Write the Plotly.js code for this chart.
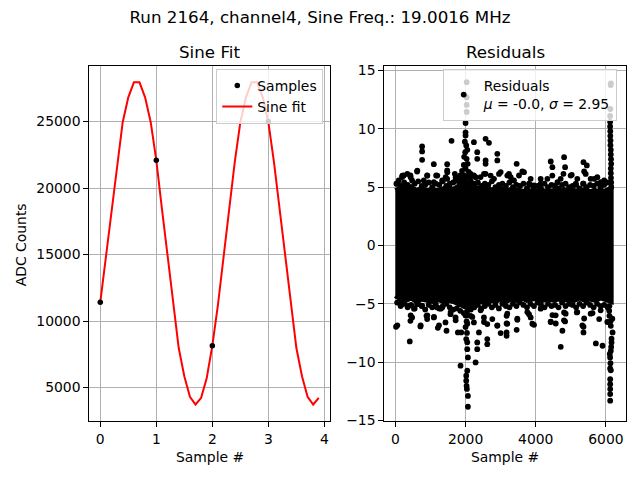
<!DOCTYPE html>
<html>
<head>
<meta charset="utf-8">
<script src="https://cdn.plot.ly/plotly-3.0.1.min.js"></script>
<style>html,body{margin:0;padding:0;background:#fff;}#chart{width:640px;height:480px;}</style>
</head>
<body>
<div id="chart"></div>
<script>
// ---------- Data ----------
const sampleX = [0, 1, 2, 3];
const sampleY = [11420, 22100, 8150, 25000];

const fitX = [0.0,0.1,0.2,0.3,0.4,0.5,0.6,0.7,0.8,0.9,
              1.0,1.1,1.2,1.3,1.4,1.5,1.6,1.7,1.8,1.9,
              2.0,2.1,2.2,2.3,2.4,2.5,2.6,2.7,2.8,2.9,
              3.0,3.1,3.2,3.3,3.4,3.5,3.6,3.7,3.8,3.9];
const fitY = [11420,14840,18460,21950,24950,26820,27950,27950,26820,24950,
              22080,18460,14840,11220,7970,5850,4300,3725,4225,5720,
              8150,11220,14840,18460,21950,24950,26820,27950,27950,26820,
              24950,21950,18460,14840,11220,7970,5850,4300,3725,4225];

// Dense core of the residual cloud: envelope (upper / lower) along sample index
const envX = [0,150,300,450,600,750,900,1050,1200,1350,1500,1650,1800,1950,2100,2250,2400,2550,2700,2850,
              3000,3150,3300,3450,3600,3750,3900,4050,4200,4350,4500,4650,4800,4950,5100,5250,5400,5550,5700,5850,6000,6150];
const envUpper = [4.7,4.9,4.8,5.0,4.7,4.9,4.7,4.8,4.7,4.9,5.0,4.8,5.1,5.7,5.4,5.0,4.9,5.0,4.8,4.7,
                  4.9,4.7,4.8,4.7,4.6,4.6,4.7,4.6,4.7,4.6,4.7,4.6,4.8,4.6,4.7,4.6,4.8,4.6,4.7,4.6,4.7,4.9];
const envLower = [-4.3,-4.6,-4.7,-4.5,-4.8,-4.6,-4.7,-4.8,-4.6,-4.8,-4.7,-4.8,-4.9,-5.2,-5.4,-5.0,-4.8,-4.9,-4.7,-4.8,
                  -4.6,-4.8,-4.6,-4.7,-4.5,-4.7,-4.6,-4.5,-4.7,-4.6,-4.7,-4.6,-4.7,-4.6,-4.7,-4.5,-4.7,-4.6,-4.7,-4.5,-4.7,-4.8];

// Ragged rim of the dense core (points just above / below the envelope)
const rimX = [50,150,250,350,450,550,650,750,850,950,1050,1150,1250,1350,1450,1550,1650,1750,1850,1950,
              2050,2150,2250,2350,2450,2550,2650,2750,2850,2950,3050,3150,3250,3350,3450,3550,3650,3750,3850,3950,
              4050,4150,4250,4350,4450,4550,4650,4750,4850,4950,5050,5150,5250,5350,5450,5550,5650,5750,5850,5950,6050];
const rimUpper = [5.3,5.1,5.4,5.2,5.0,5.3,5.5,5.1,5.2,5.4,5.0,5.3,5.2,5.5,5.1,5.3,5.4,5.6,5.8,6.0,
                  5.9,5.5,5.3,5.4,5.1,5.3,5.2,5.5,5.0,5.2,5.3,5.1,5.4,5.0,5.2,5.1,5.3,4.9,5.2,5.0,
                  5.1,4.9,5.3,5.0,5.2,5.1,4.9,5.2,5.3,5.0,5.1,5.2,4.9,5.3,5.0,5.2,5.1,5.3,5.0,5.2,5.4];
const rimLower = [-4.9,-5.2,-5.0,-5.3,-5.1,-5.4,-5.0,-5.2,-5.5,-5.1,-5.3,-5.0,-5.4,-5.2,-5.0,-5.3,-5.5,-5.4,-5.6,-5.8,
                  -6.0,-5.5,-5.3,-5.1,-5.4,-5.2,-5.0,-5.3,-5.1,-5.4,-5.0,-5.2,-5.3,-5.0,-5.2,-4.9,-5.1,-5.3,-5.0,-5.2,
                  -4.9,-5.1,-5.3,-5.0,-5.2,-5.1,-5.3,-4.9,-5.2,-5.0,-5.1,-5.3,-5.0,-5.2,-4.9,-5.1,-5.3,-5.0,-5.2,-5.1,-5.3];

// Individual residual points outside the dense core
const resX = [
  29,95,190,238,238,428,476,619,762,762,762,810,905,1095,1095,1162,1333,1476,1476,1476,1600,1695,1714,
  2238,2238,2333,2333,2428,2571,2571,2571,2571,2667,2810,2905,2905,3000,
  2032,2032,2032,2032,2000,2000,2000,1980,2020,2050,1990,1960,2030,2060,1950,2000,1900,2090,1850,2140,1980,1800,2100,2000,
  3237,3380,3456,3523,3618,3808,3951,4142,4332,4427,4475,4618,4790,4808,4837,5027,5142,5361,5380,5456,5361,5665,5856,5951,
  6142,6135,6125,6120,6120,6120,6125,6125,6130,6130,6140,6140,6145,6150,6140,6140,6145,6150,6150,
  198,340,625,435,910,1195,1480,1433,1718,2145,2288,2525,2715,2953,3190,3285,3665,3855,4140,4473,4710,4995,5185,5423,5565,5755,5945,
  19,95,190,381,410,428,476,619,714,762,886,905,1095,1190,1210,1333,1428,1457,1571,1714,1781,1876,
  2143,2238,2286,2333,2333,2381,2524,2619,2619,2619,2762,2905,3000,
  1990,2050,2000,2030,2000,2040,2019,2048,2048,2067,1857,2048,2019,2019,2029,2038,2067,2067,
  3170,3170,3170,3170,3475,3456,3808,3856,3951,4475,4427,4570,4837,4808,4760,4713,5170,5380,5361,5361,5618,5713,5904,5808,
  6100,6094,6100,6130,6140,6190,6160,6160,6150,6140,6110,6120,6130,6120,6140,6122,6122,6122,6122,6122,
  55,198,435,530,720,910,1100,1243,1290,1575,1718,2050,2193,2430,2525,2905,3190,3190,3475,3760,3903,4140,4425,4568,4805,4853,5185,5328,5565,5850,6040,6183
];
const resY = [
  5.29,5.57,5.86,6.0,5.14,6.0,5.57,6.34,8.49,8.06,7.34,5.57,6.0,6.97,5.43,6.0,5.57,6.97,6.43,5.71,8.97,6.14,5.57,
  8.86,6.0,8.0,7.43,5.86,9.14,7.29,7.0,6.14,8.8,5.71,7.86,7.29,6.29,
  14.0,12.7,12.05,11.45,10.5,9.7,9.43,8.9,8.57,8.2,8.0,7.6,7.43,7.0,6.9,6.6,6.4,6.3,6.0,5.9,5.8,5.5,5.4,5.1,
  6.14,5.57,7.0,6.0,6.34,5.29,5.14,5.29,5.71,7.2,6.71,5.43,6.14,7.57,6.71,6.06,5.29,7.14,6.34,6.86,5.29,5.71,5.43,5.57,
  13.9,13.75,11.7,11.1,10.6,10.2,9.8,9.4,9.0,8.6,8.2,7.8,7.4,7.0,6.6,6.2,5.8,5.4,5.0,
  5.99,6.13,6.42,5.85,5.99,5.99,6.28,5.85,5.85,6.13,5.85,6.13,5.99,6.13,5.99,5.85,6.28,5.71,5.71,5.99,5.71,5.99,5.71,6.13,5.71,5.85,5.42,
  -6.97,-4.9,-5.0,-5.17,-8.23,-6.46,-6.17,-5.03,-6.94,-5.17,-6.03,-6.31,-6.17,-5.31,-7.06,-5.31,-6.6,-7.31,-5.89,-6.17,-7.46,-7.46,
  -6.03,-6.6,-10.03,-8.31,-8.89,-7.46,-6.17,-8.03,-8.46,-6.74,-6.31,-6.89,-7.51,
  -5.2,-5.6,-6.0,-6.5,-7.0,-7.5,-8.03,-8.3,-8.89,-9.6,-10.31,-10.74,-11.17,-11.6,-12.03,-12.3,-12.9,-13.83,
  -6.03,-6.69,-7.46,-7.74,-6.37,-7.23,-5.89,-6.17,-6.8,-5.97,-6.54,-6.69,-6.51,-5.74,-7.31,-8.69,-5.74,-6.26,-6.97,-7.46,-5.8,-8.4,-8.6,-6.31,
  -5.2,-5.6,-6.03,-6.5,-6.89,-7.46,-8.0,-8.31,-8.7,-9.03,-9.3,-9.6,-10.1,-10.54,-10.7,-11.46,-11.89,-12.31,-12.74,-13.31,
  -6.85,-5.0,-5.99,-5.42,-6.85,-5.99,-6.13,-6.85,-5.42,-5.71,-6.42,-6.71,-6.13,-5.56,-6.56,-6.85,-6.71,-5.85,-6.28,-5.71,-6.71,-5.42,-6.56,-5.99,-6.42,-5.85,-5.71,-6.85,-5.85,-5.56,-6.56,-6.28
];

// Tick values
const sineTicksX = [0, 1, 2, 3, 4];
const sineTicksY = [5000, 10000, 15000, 20000, 25000];
const resTicksX = [0, 2000, 4000, 6000];
const resTicksY = [-15, -10, -5, 0, 5, 10, 15];

const residualLabel = 'Residuals<br><i>\u03bc</i> = -0.0, <i>\u03c3</i> = 2.95';

// ---------- Build ----------
const FONT = 'DejaVu Sans, Liberation Sans, sans-serif';
const polyX = envX.concat(envX.slice().reverse());
const polyY = envUpper.concat(envLower.slice().reverse());
const allResX = rimX.concat(rimX, resX);
const allResY = rimUpper.concat(rimLower, resY);

const traces = [
  { x: fitX, y: fitY, type: 'scatter', mode: 'lines', name: 'Sine fit',
    line: { color: '#ff0000', width: 2 }, xaxis: 'x', yaxis: 'y', legend: 'legend', legendrank: 2 },
  { x: sampleX, y: sampleY, type: 'scatter', mode: 'markers', name: 'Samples',
    marker: { color: '#000000', size: 5.5 }, xaxis: 'x', yaxis: 'y', legend: 'legend', legendrank: 1 },
  { x: polyX, y: polyY, type: 'scatter', mode: 'lines', fill: 'toself', fillcolor: '#000000',
    line: { color: '#000000', width: 5 }, showlegend: false, hoverinfo: 'skip', xaxis: 'x2', yaxis: 'y2' },
  { x: allResX, y: allResY, type: 'scatter', mode: 'markers', name: residualLabel,
    marker: { color: '#000000', size: 5.8 }, xaxis: 'x2', yaxis: 'y2', legend: 'legend2' }
];

const axisStyle = {
  showline: true, linecolor: '#000000', linewidth: 1, mirror: true,
  ticks: 'outside', ticklen: 5, tickwidth: 1, tickcolor: '#000000',
  showgrid: true, gridcolor: '#b0b0b0', gridwidth: 1, zeroline: false,
  tickfont: { family: FONT, size: 13.9, color: '#000000' }, fixedrange: true
};
const W = 640, H = 480;
const yDom = [(H - 421) / H, (H - 65.5) / H];

const legendStyle = {
  yanchor: 'top', y: 1 - 69 / H, xanchor: 'right',
  bgcolor: 'rgba(255,255,255,0.8)', bordercolor: '#cccccc', borderwidth: 1,
  font: { family: FONT, size: 13.9, color: '#000000' }, tracegroupgap: 0
};

const layout = {
  width: W, height: H, autosize: false,
  margin: { l: 0, r: 0, t: 0, b: 0, pad: 0 },
  paper_bgcolor: '#ffffff', plot_bgcolor: '#ffffff',
  font: { family: FONT, color: '#000000' },
  title: { text: 'Run 2164, channel4, Sine Freq.: 19.0016 MHz', x: 0.5, xanchor: 'center',
           y: 1 - 17 / H, yref: 'container', yanchor: 'middle', font: { family: FONT, size: 16.7, color: '#000000' } },
  xaxis: Object.assign({}, axisStyle, { domain: [89.3 / W, 330 / W], range: [-0.196, 4.10], tickvals: sineTicksX, anchor: 'y' }),
  yaxis: Object.assign({}, axisStyle, { domain: yDom, range: [2485, 29215], tickvals: sineTicksY, tickformat: 'd', anchor: 'x' }),
  xaxis2: Object.assign({}, axisStyle, { domain: [384.3 / W, 625.7 / W], range: [-316, 6564], tickvals: resTicksX, tickformat: 'd', anchor: 'y2' }),
  yaxis2: Object.assign({}, axisStyle, { domain: yDom, range: [-15.05, 15.43], tickvals: resTicksY, anchor: 'x2' }),
  legend: Object.assign({}, legendStyle, { x: 323.3 / W }),
  legend2: Object.assign({}, legendStyle, { x: 616.7 / W }),
  showlegend: true,
  annotations: [
    { text: 'Sine Fit', xref: 'paper', yref: 'paper', x: (89.3 + 330) / 2 / W, y: 1 - 51.5 / H,
      xanchor: 'center', yanchor: 'middle', showarrow: false, font: { family: FONT, size: 16.7, color: '#000000' } },
    { text: 'Residuals', xref: 'paper', yref: 'paper', x: (384.3 + 625.7) / 2 / W, y: 1 - 51.5 / H,
      xanchor: 'center', yanchor: 'middle', showarrow: false, font: { family: FONT, size: 16.7, color: '#000000' } },
    { text: 'Sample #', xref: 'paper', yref: 'paper', x: (89.3 + 330) / 2 / W, y: 1 - 456.7 / H,
      xanchor: 'center', yanchor: 'middle', showarrow: false, font: { family: FONT, size: 13.9, color: '#000000' } },
    { text: 'Sample #', xref: 'paper', yref: 'paper', x: (384.3 + 625.7) / 2 / W, y: 1 - 456.7 / H,
      xanchor: 'center', yanchor: 'middle', showarrow: false, font: { family: FONT, size: 13.9, color: '#000000' } },
    { text: 'ADC Counts', xref: 'paper', yref: 'paper', x: 21.2 / W, y: 1 - 245 / H, textangle: -90,
      xanchor: 'center', yanchor: 'middle', showarrow: false, font: { family: FONT, size: 13.9, color: '#000000' } }
  ]
};

Plotly.newPlot('chart', traces, layout, { staticPlot: true, displayModeBar: false });
</script>
</body>
</html>
